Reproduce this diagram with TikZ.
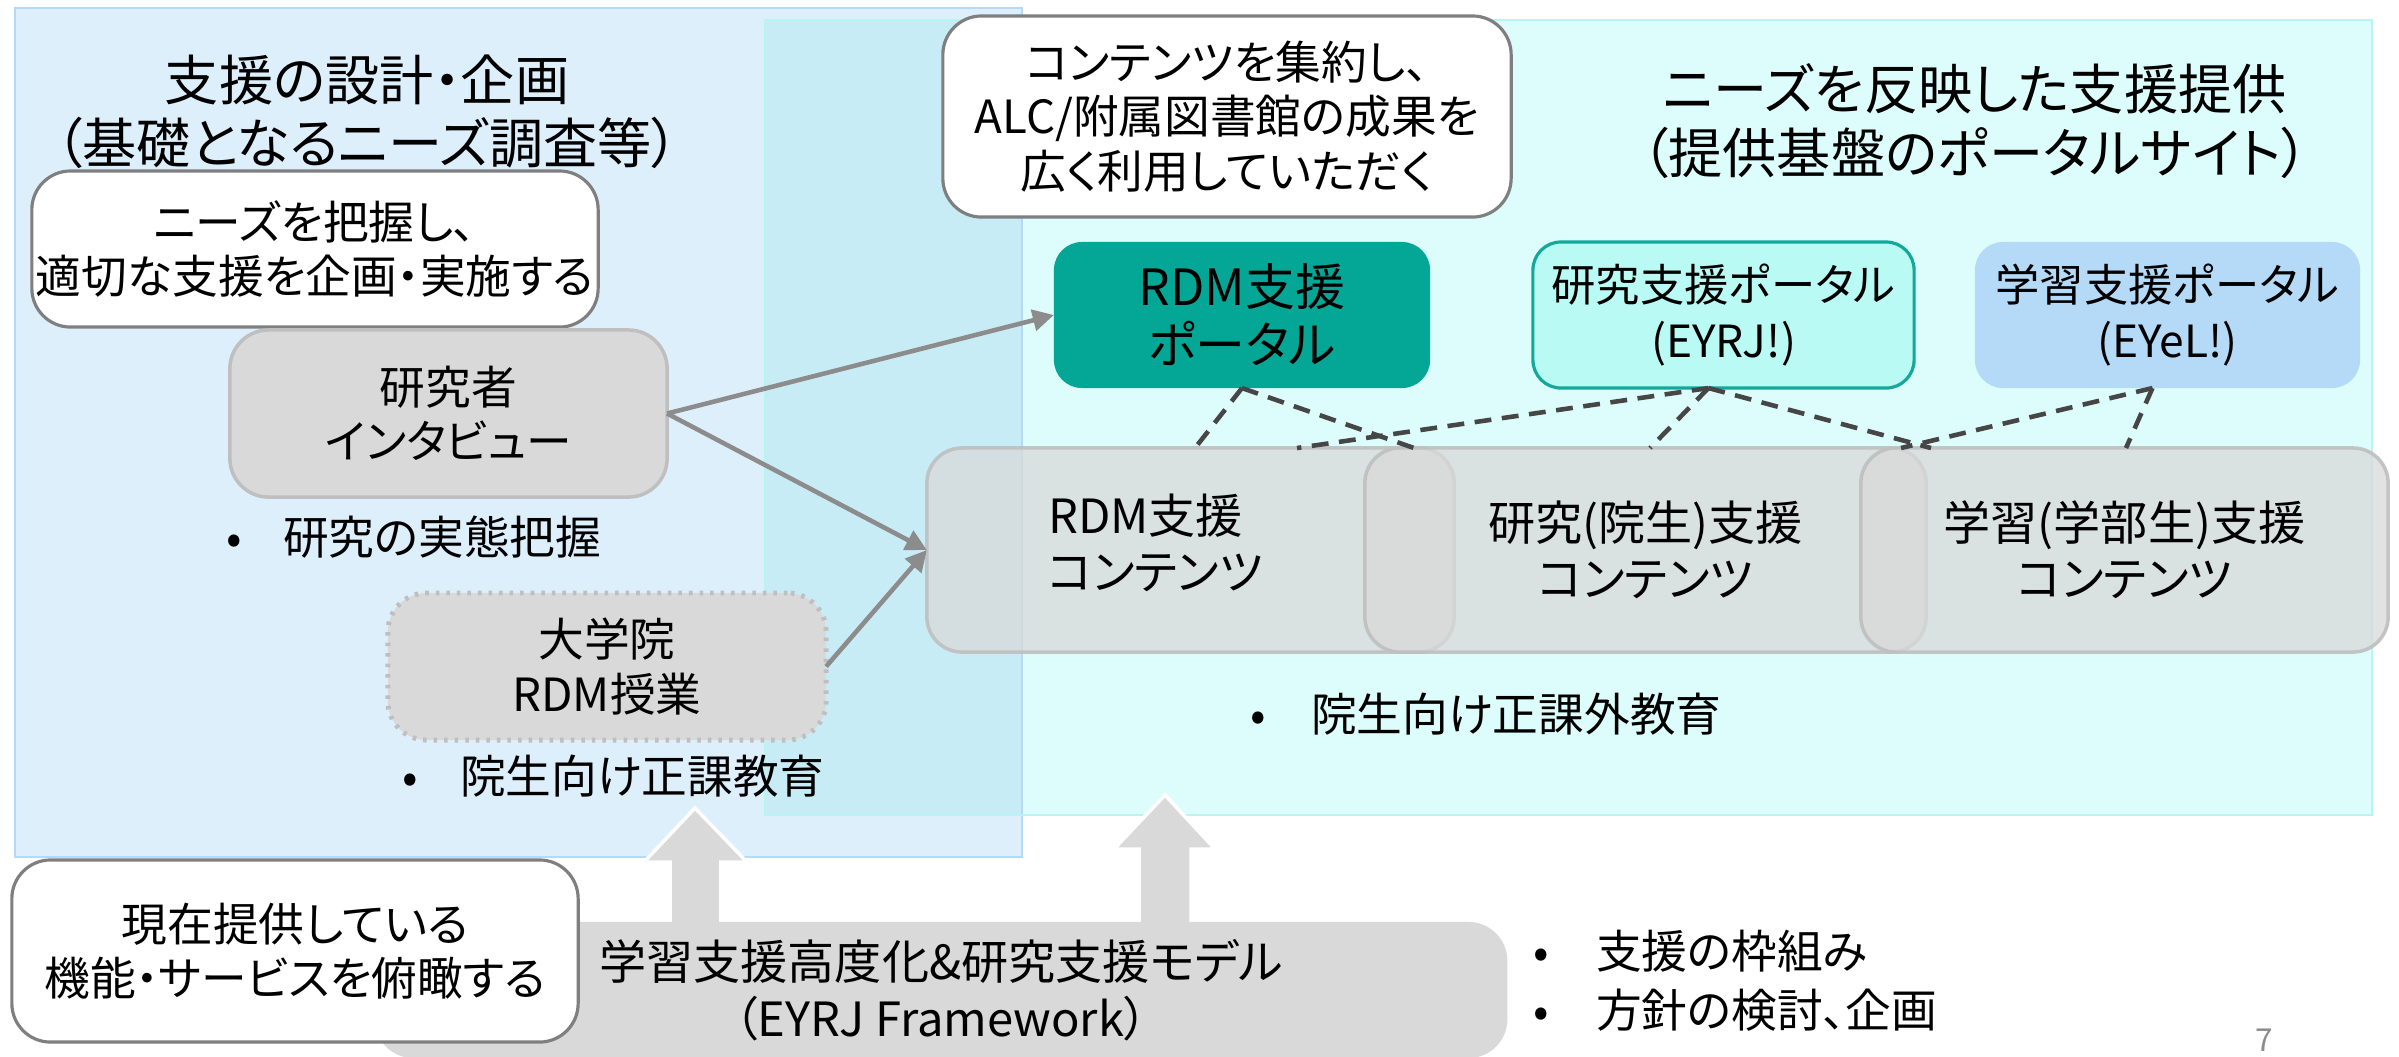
\documentclass[tikz,border=0pt]{standalone}
\usepackage{fontspec}
\setmainfont{Noto Sans CJK JP}[RawFeature={+palt}]
\usetikzlibrary{arrows.meta,calc}
\definecolor{lpanel}{HTML}{DEEFFC}
\definecolor{lpanelb}{HTML}{B4DAF7}
\definecolor{rpanel}{HTML}{DCFDFB}
\definecolor{rpanelb}{HTML}{B8F5F0}
\definecolor{overlapc}{HTML}{C8ECF6}
\definecolor{tealp}{HTML}{04A696}
\definecolor{eyrjf}{HTML}{B9FAF4}
\definecolor{eyrjb}{HTML}{14A89A}
\definecolor{eyelf}{HTML}{B4DAF8}
\definecolor{boxgray}{HTML}{D9D9D9}
\definecolor{boxline}{HTML}{BFBFBF}
\definecolor{wline}{HTML}{7F7F7F}
\definecolor{arrgray}{HTML}{8C8C8C}
\definecolor{dashc}{HTML}{464646}
\definecolor{pgnum}{HTML}{8C8C8C}
\begin{document}
\begin{tikzpicture}[x=0.01cm,y=-0.01cm,
  base/.style={inner sep=0pt, outer sep=0pt, font=\fontsize{13pt}{15.5pt}\selectfont, align=center, text=black},
  whitebox/.style={base, draw=wline, line width=0.9pt, fill=white, rounded corners=11pt},
  graybox/.style={base, draw=boxline, line width=1pt, fill=boxgray, rounded corners=11pt},
  dotbox/.style={graybox, dotted, line width=1.4pt},
  portal/.style={base, rounded corners=8pt, font=\fontsize{14.2pt}{16.5pt}\selectfont},
  cyl/.style={base, draw=boxline, line width=1pt, fill=boxgray, fill opacity=0.75, draw opacity=0.9, text opacity=1, rounded corners=10pt, font=\fontsize{13.4pt}{16pt}\selectfont},
  titlet/.style={base, font=\fontsize{15.4pt}{18pt}\selectfont},
  bul/.style={base, anchor=west, align=left},
  conn/.style={draw=arrgray, line width=1.3pt, -{Triangle[length=6pt,width=6pt]}},
  dashconn/.style={draw=dashc, line width=1.3pt, dash pattern=on 4.8pt off 3pt},
  block/.style={fill=boxgray, draw=white, line width=1pt}
]
\useasboundingbox (0,0) rectangle (2399,1056);
\fill[white] (0,0) rectangle (2399,1056);

% panels
\fill[lpanel] (15,8) rectangle (1022,857);
\fill[rpanel] (765,20) rectangle (2372,815);
\fill[overlapc] (765,20) rectangle (1022,815);
\draw[lpanelb, line width=0.8pt] (15,8) rectangle (1022,857);
\draw[rpanelb, line width=0.8pt] (765,20) rectangle (2372,815);

% block arrows
\draw[block] (670,940) -- (670,862) -- (644,862) -- (695,808) -- (747,862) -- (721,862) -- (721,940);
\draw[block] (1139,940) -- (1139,849) -- (1114,849) -- (1165,795) -- (1215,849) -- (1191,849) -- (1191,940);

% framework box
\node[base, fill=boxgray, rounded corners=11pt, minimum width=11.32cm, minimum height=1.36cm,
      font=\fontsize{13.4pt}{16.2pt}\selectfont] (fw) at (941,990)
  {学習支援高度化\&研究支援モデル\\（EYRJ Framework）};

\node[whitebox, minimum width=5.66cm, minimum height=1.82cm] (wb3) at (295,951)
  {現在提供している\\機能・サービスを俯瞰する};

% titles
\node[titlet] (tl) at (367,111.5) {支援の設計・企画\\（基礎となるニーズ調査等）};
\node[titlet] (tr) at (1975,121) {ニーズを反映した支援提供\\（提供基盤のポータルサイト）};

% left boxes
\node[whitebox, minimum width=5.66cm, minimum height=1.56cm] (wb1) at (315,249)
  {ニーズを把握し、\\適切な支援を企画・実施する};
\node[graybox, minimum width=4.37cm, minimum height=1.67cm] (res) at (448.5,413.5)
  {研究者\\インタビュー};
\node[dotbox, minimum width=4.38cm, minimum height=1.47cm] (grad) at (607,666.5)
  {大学院\\RDM授業};

\node[bul] (b1) at (226,537) {\makebox[0.57cm][l]{•}研究の実態把握};
\node[bul] (b2) at (402,776) {\makebox[0.58cm][l]{•}院生向け正課教育};

% right boxes
\node[whitebox, minimum width=5.68cm, minimum height=2.01cm] (wb2) at (1227,116.5)
  {コンテンツを集約し、\\ALC/附属図書館の成果を\\広く利用していただく};

\node[portal, fill=tealp, minimum width=3.76cm, minimum height=1.46cm] (rdmp) at (1242,315)
  {RDM支援\\ポータル};
\node[portal, fill=eyrjf, draw=eyrjb, line width=0.9pt, minimum width=3.81cm, minimum height=1.46cm,
      font=\fontsize{12.6pt}{16.2pt}\selectfont] (eyrj) at (1723.5,315)
  {研究支援ポータル\\(EYRJ!)};
\node[portal, fill=eyelf, minimum width=3.85cm, minimum height=1.46cm,
      font=\fontsize{12.6pt}{16.2pt}\selectfont] (eyel) at (2167.5,315)
  {学習支援ポータル\\(EYeL!)};

% cylinders
\node[cyl, minimum width=5.27cm, minimum height=2.04cm] (c1) at (1190.5,550)
  {\begin{tabular}{@{}l@{}}RDM支援\\コンテンツ\end{tabular}\hspace*{0.7cm}};
\node[cyl, minimum width=5.61cm, minimum height=2.04cm] (c2) at (1645.5,550)
  {研究(院生)支援\\コンテンツ};
\node[cyl, minimum width=5.27cm, minimum height=2.04cm] (c3) at (2124.5,550)
  {学習(学部生)支援\\コンテンツ};

\node[bul] (b3) at (1250,714) {\makebox[0.61cm][l]{•}院生向け正課外教育};
\node[bul] (b4) at (1533,951) {\makebox[0.63cm][l]{•}支援の枠組み};
\node[bul] (b5) at (1533,1010) {\makebox[0.63cm][l]{•}方針の検討、企画};

\node[base, text=pgnum, font=\fontsize{9pt}{10pt}\selectfont] (pg) at (2264,1040) {7};

% connectors
\draw[conn] (res.east) -- (rdmp.west);
\draw[conn] (res.east) -- (c1.west);
\draw[conn] (grad.east) -- (c1.west);

\coordinate (e1) at (1195,448);
\coordinate (e2) at (1414,448);
\coordinate (e3) at (1297,448);
\coordinate (e4) at (1650,448);
\coordinate (e5) at (1931,448);
\coordinate (e6) at (1901,448);
\coordinate (e7) at (2126,448);
\coordinate (s2) at ([xshift=-0.15cm]eyrj.south);
\coordinate (s3) at ([xshift=-0.15cm]eyel.south);
\draw[dashconn] (rdmp.south) -- (e1);
\draw[dashconn] (rdmp.south) -- (e2);
\draw[dashconn] (s2) -- (e3);
\draw[dashconn] (s2) -- (e4);
\draw[dashconn] (s2) -- (e5);
\draw[dashconn] (s3) -- (e6);
\draw[dashconn] (s3) -- (e7);
\end{tikzpicture}
\end{document}
